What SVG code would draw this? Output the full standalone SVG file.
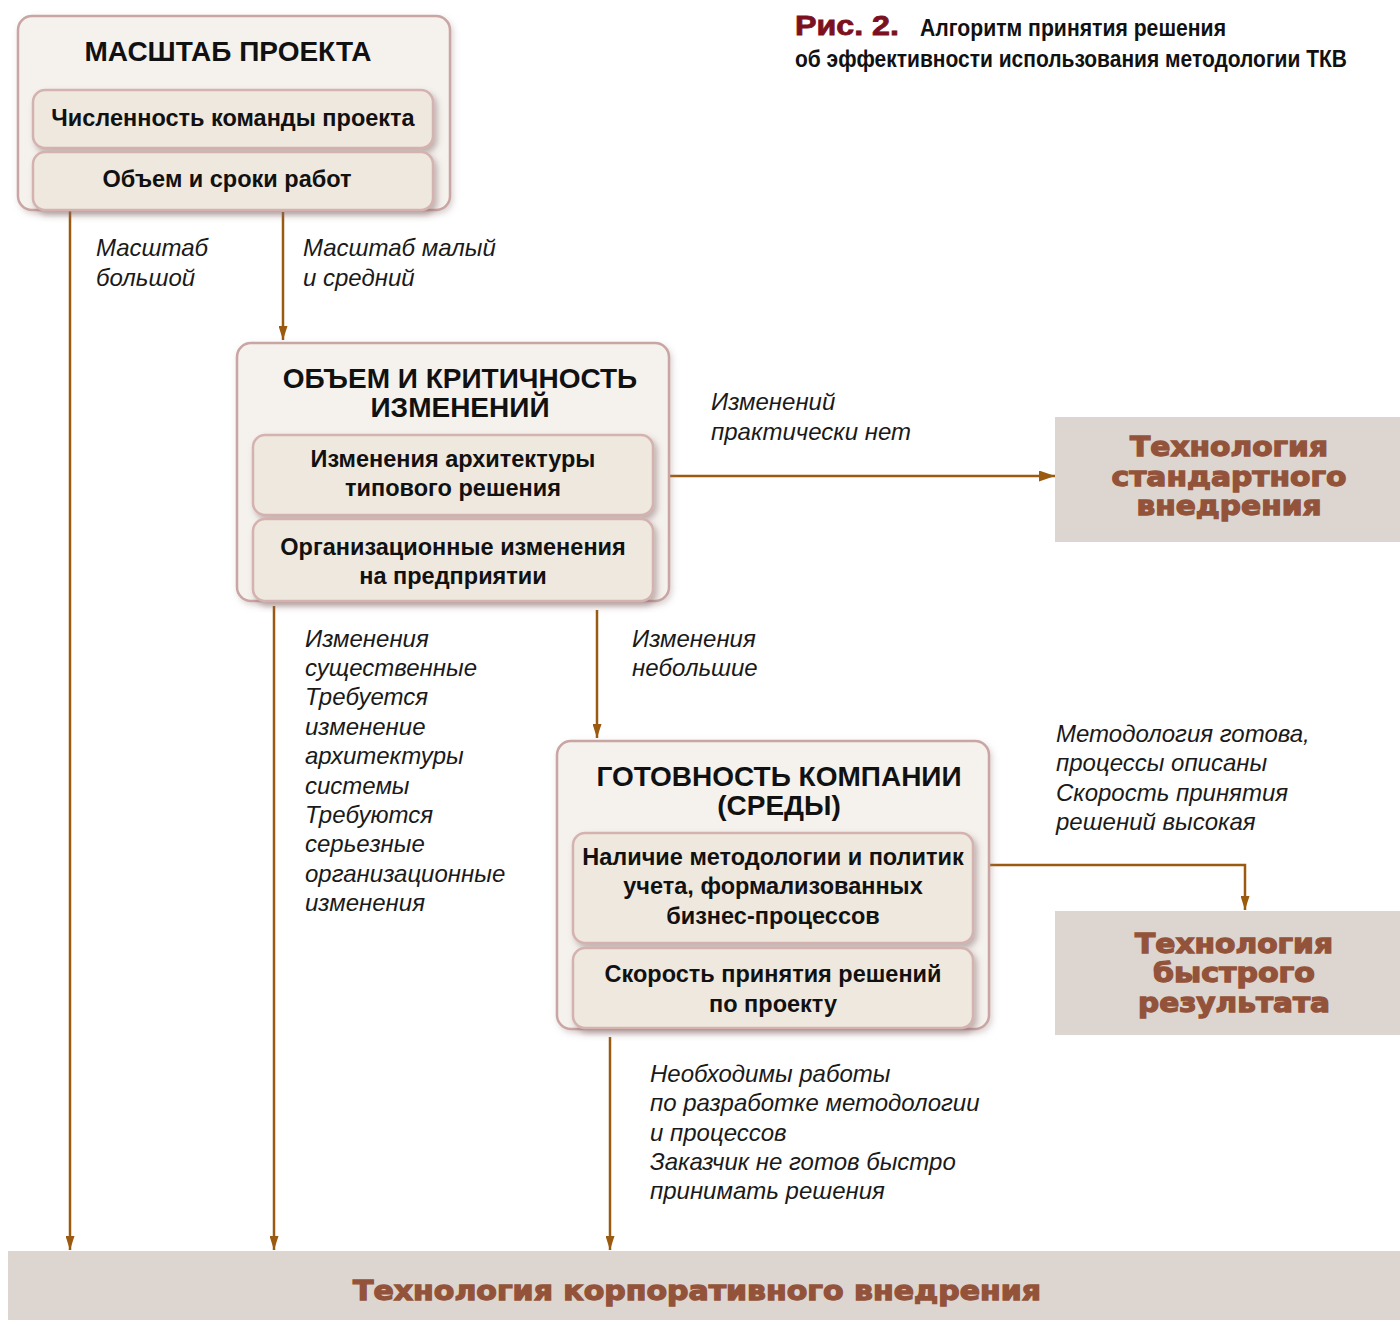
<svg xmlns="http://www.w3.org/2000/svg" width="1400" height="1320" viewBox="0 0 1400 1320">
<defs>
<filter id="sh" x="-10%" y="-20%" width="130%" height="160%"><feDropShadow dx="3" dy="4" stdDeviation="3" flood-color="#7a5a5a" flood-opacity="0.45"/></filter>
<filter id="sh2" x="-10%" y="-10%" width="130%" height="130%"><feDropShadow dx="2" dy="3" stdDeviation="3" flood-color="#9a8080" flood-opacity="0.35"/></filter>
<marker id="ah" viewBox="0 0 14 9" refX="14" refY="4.5" markerWidth="14" markerHeight="9" markerUnits="userSpaceOnUse" orient="auto"><path d="M0,0 L14,4.5 L0,9 z" fill="#9a5a10"/></marker>
<marker id="ahl" viewBox="0 0 16 11" refX="16" refY="5.5" markerWidth="16" markerHeight="11" markerUnits="userSpaceOnUse" orient="auto"><path d="M0,0 L16,5.5 L0,11 z" fill="#9a5a10"/></marker>
</defs>
<style>
.outer{fill:#f5f2ee;stroke:#c9a5a3;stroke-width:2.5}
.inner{fill:#efe8de;stroke:#d4b2b0;stroke-width:2.5}
.ttl{font-family:"Liberation Sans",Arial,sans-serif;font-weight:bold;font-size:28px;fill:#111;text-anchor:middle}
.sub{font-family:"Liberation Sans",Arial,sans-serif;font-weight:bold;font-size:23.5px;fill:#111;text-anchor:middle}
.lbl{font-family:"Liberation Sans",Arial,sans-serif;font-style:italic;font-size:24px;fill:#1a1a1a}
.res{fill:#ddd5cf}
.rt{font-family:"DejaVu Sans",Verdana,sans-serif;font-weight:bold;font-size:27px;fill:#93533a;stroke:#93533a;stroke-width:1.3;text-anchor:middle}
.con{stroke:#9a5a10;stroke-width:2.5;fill:none}
</style>

<g id="caption">
<text x="795" y="35" font-family="Liberation Sans,Arial,sans-serif" font-weight="900" font-size="27" fill="#7b1020" textLength="104" lengthAdjust="spacingAndGlyphs" stroke="#7b1020" stroke-width="0.8">Рис. 2.</text>
<text x="920" y="36" font-family="Liberation Sans,Arial,sans-serif" font-weight="bold" font-size="23" fill="#111" textLength="306" lengthAdjust="spacingAndGlyphs">Алгоритм принятия решения</text>
<text x="795" y="67" font-family="Liberation Sans,Arial,sans-serif" font-weight="bold" font-size="23" fill="#111" textLength="552" lengthAdjust="spacingAndGlyphs">об эффективности использования методологии ТКВ</text>
</g>

<g id="connectors">
<line class="con" x1="70" y1="210" x2="70" y2="1250" marker-end="url(#ah)"/>
<line class="con" x1="283" y1="212" x2="283" y2="340" marker-end="url(#ah)"/>
<line class="con" x1="670" y1="476" x2="1055" y2="476" marker-end="url(#ahl)"/>
<line class="con" x1="274" y1="606" x2="274" y2="1250" marker-end="url(#ah)"/>
<line class="con" x1="597" y1="610" x2="597" y2="738" marker-end="url(#ah)"/>
<polyline class="con" points="990,865 1245,865 1245,910" marker-end="url(#ah)"/>
<line class="con" x1="610" y1="1037" x2="610" y2="1250" marker-end="url(#ah)"/>
<text class="lbl" x="96" y="256">Масштаб</text>
<text class="lbl" x="96" y="286">большой</text>
<text class="lbl" x="303" y="256">Масштаб малый</text>
<text class="lbl" x="303" y="286">и средний</text>
<text class="lbl" x="711" y="410">Изменений</text>
<text class="lbl" x="711" y="440">практически нет</text>
<text class="lbl" x="305" y="647">Изменения</text>
<text class="lbl" x="305" y="676">существенные</text>
<text class="lbl" x="305" y="705">Требуется</text>
<text class="lbl" x="305" y="735">изменение</text>
<text class="lbl" x="305" y="764">архитектуры</text>
<text class="lbl" x="305" y="794">системы</text>
<text class="lbl" x="305" y="823">Требуются</text>
<text class="lbl" x="305" y="852">серьезные</text>
<text class="lbl" x="305" y="882">организационные</text>
<text class="lbl" x="305" y="911">изменения</text>
<text class="lbl" x="632" y="647">Изменения</text>
<text class="lbl" x="632" y="676">небольшие</text>
<text class="lbl" x="1056" y="742">Методология готова,</text>
<text class="lbl" x="1056" y="771">процессы описаны</text>
<text class="lbl" x="1056" y="801">Скорость принятия</text>
<text class="lbl" x="1056" y="830">решений высокая</text>
<text class="lbl" x="650" y="1082">Необходимы работы</text>
<text class="lbl" x="650" y="1111">по разработке методологии</text>
<text class="lbl" x="650" y="1141">и процессов</text>
<text class="lbl" x="650" y="1170">Заказчик не готов быстро</text>
<text class="lbl" x="650" y="1199">принимать решения</text>
</g>

<g id="scale">
<rect class="outer" x="18" y="16" width="432" height="194" rx="14" filter="url(#sh2)"/>
<text class="ttl" x="228" y="61">МАСШТАБ ПРОЕКТА</text>
<rect class="inner" x="33" y="90" width="400" height="58" rx="12" filter="url(#sh)"/>
<text class="sub" x="233" y="126">Численность команды проекта</text>
<rect class="inner" x="33" y="152" width="400" height="58" rx="12" filter="url(#sh)"/>
<text class="sub" x="227" y="187">Объем и сроки работ</text>
</g>

<g id="changes">
<rect class="outer" x="237" y="343" width="432" height="258" rx="14" filter="url(#sh2)"/>
<text class="ttl" x="460" y="388">ОБЪЕМ И КРИТИЧНОСТЬ</text>
<text class="ttl" x="460" y="417">ИЗМЕНЕНИЙ</text>
<rect class="inner" x="253" y="435" width="400" height="80" rx="12" filter="url(#sh)"/>
<text class="sub" x="453" y="467">Изменения архитектуры</text>
<text class="sub" x="453" y="496">типового решения</text>
<rect class="inner" x="253" y="519" width="400" height="82" rx="12" filter="url(#sh)"/>
<text class="sub" x="453" y="555">Организационные изменения</text>
<text class="sub" x="453" y="584">на предприятии</text>
</g>

<g id="readiness">
<rect class="outer" x="557" y="741" width="432" height="288" rx="14" filter="url(#sh2)"/>
<text class="ttl" x="779" y="786">ГОТОВНОСТЬ КОМПАНИИ</text>
<text class="ttl" x="779" y="815">(СРЕДЫ)</text>
<rect class="inner" x="573" y="833" width="400" height="110" rx="12" filter="url(#sh)"/>
<text class="sub" x="773" y="865">Наличие методологии и политик</text>
<text class="sub" x="773" y="894">учета, формализованных</text>
<text class="sub" x="773" y="924">бизнес-процессов</text>
<rect class="inner" x="573" y="948" width="400" height="80" rx="12" filter="url(#sh)"/>
<text class="sub" x="773" y="982">Скорость принятия решений</text>
<text class="sub" x="773" y="1012">по проекту</text>
</g>

<g id="standard">
<rect class="res" x="1055" y="417" width="345" height="125"/>
<text class="rt" x="1229" y="456" textLength="198" lengthAdjust="spacingAndGlyphs">Технология</text>
<text class="rt" x="1229" y="486" textLength="235" lengthAdjust="spacingAndGlyphs">стандартного</text>
<text class="rt" x="1229" y="515" textLength="185" lengthAdjust="spacingAndGlyphs">внедрения</text>
</g>

<g id="quick">
<rect class="res" x="1055" y="911" width="345" height="124"/>
<text class="rt" x="1234" y="953" textLength="198" lengthAdjust="spacingAndGlyphs">Технология</text>
<text class="rt" x="1234" y="982" textLength="162" lengthAdjust="spacingAndGlyphs">быстрого</text>
<text class="rt" x="1234" y="1012" textLength="192" lengthAdjust="spacingAndGlyphs">результата</text>
</g>

<g id="corporate">
<rect class="res" x="8" y="1251" width="1392" height="69"/>
<text class="rt" x="697" y="1300" textLength="688" lengthAdjust="spacingAndGlyphs" font-size="29">Технология корпоративного внедрения</text>
</g>
</svg>
